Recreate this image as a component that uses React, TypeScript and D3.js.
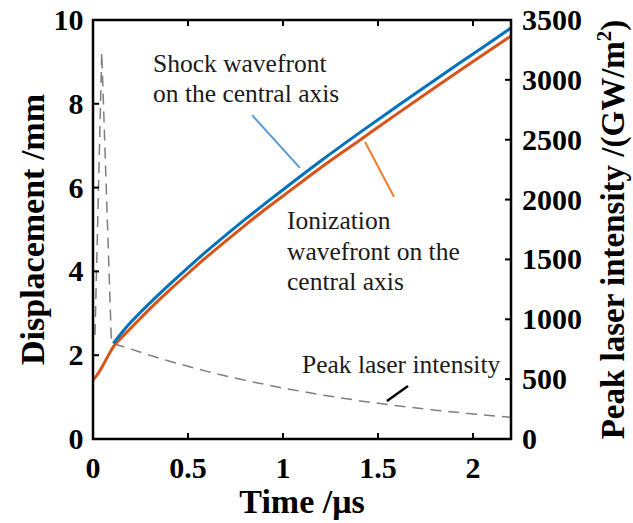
import React from 'react';
import * as d3 from 'd3';

// Shock wavefront on the central axis (time in µs, displacement in mm)
const shockTime = [0.107, 0.15, 0.2, 0.3, 0.4, 0.5, 0.6, 0.7, 0.8, 0.9, 1.0, 1.2, 1.4, 1.6, 1.8, 2.0, 2.2];
const shockDisp = [2.28, 2.53, 2.79, 3.25, 3.68, 4.09, 4.49, 4.87, 5.24, 5.6, 5.95, 6.64, 7.3, 7.94, 8.57, 9.19, 9.81];

// Ionization wavefront on the central axis
const ionTime = [0, 0.02, 0.05, 0.08, 0.107, 0.15, 0.2, 0.3, 0.4, 0.5, 0.6, 0.7, 0.8, 0.9, 1.0, 1.2, 1.4, 1.6, 1.8, 2.0, 2.2];
const ionDisp = [1.41, 1.52, 1.74, 1.99, 2.2, 2.42, 2.65, 3.11, 3.54, 3.95, 4.35, 4.73, 5.1, 5.46, 5.8, 6.48, 7.12, 7.76, 8.39, 9.01, 9.62];

// Peak laser intensity (GW/m^2)
const laserTime = [0.0105, 0.046, 0.097, 0.2, 0.3, 0.4, 0.5, 0.6, 0.7, 0.8, 1.0, 1.2, 1.4, 1.6, 1.8, 2.0, 2.2];
const laserIntensity = [869, 3230, 802, 751, 699, 651, 607, 565, 526, 490, 425, 369, 320, 277, 241, 209, 181];

const xTicks = [0, 0.5, 1, 1.5, 2];
const xTickLabels = ['0', '0.5', '1', '1.5', '2'];
const yLeftTicks = [0, 2, 4, 6, 8, 10];
const yRightTicks = [0, 500, 1000, 1500, 2000, 2500, 3000, 3500];

const FONT = '"Liberation Serif", "Times New Roman", serif';

export default function App() {
  const W = 633;
  const H = 523;
  const L = 93, R = 511, T = 20, B = 439;
  const x = d3.scaleLinear().domain([0, 2.2]).range([L, R]);
  const yL = d3.scaleLinear().domain([0, 10]).range([B, T]);
  const yR = d3.scaleLinear().domain([0, 3500]).range([B, T]);

  const lineL = d3.line<[number, number]>().x(d => x(d[0])).y(d => yL(d[1])).curve(d3.curveMonotoneX);
  const lineR = d3.line<[number, number]>().x(d => x(d[0])).y(d => yR(d[1])).curve(d3.curveLinear);

  const shockPts = shockTime.map((t, i) => [t, shockDisp[i]] as [number, number]);
  const ionPts = ionTime.map((t, i) => [t, ionDisp[i]] as [number, number]);
  const laserPts = laserTime.map((t, i) => [t, laserIntensity[i]] as [number, number]);

  const tickLen = 6;
  const annFont = 25.5;

  return (
    <svg width={W} height={H} style={{ position: 'absolute', left: 0, top: 0, background: '#fff' }} fontFamily={FONT}>
      <defs>
        <clipPath id="plotClip">
          <rect x={L} y={T} width={R - L} height={B - T} />
        </clipPath>
      </defs>
      <rect x={0} y={0} width={W} height={H} fill="#fff" />

      {/* data */}
      <g clipPath="url(#plotClip)">
        <path d={lineR(laserPts) || ''} fill="none" stroke="#7f7f7f" strokeWidth={1.5} strokeDasharray="11,7" />
        <path d={lineL(ionPts) || ''} fill="none" stroke="#D95319" strokeWidth={3} strokeLinejoin="round" />
        <path d={lineL(shockPts) || ''} fill="none" stroke="#0072BD" strokeWidth={3} strokeLinejoin="round" />
      </g>

      {/* leader lines */}
      <line x1={x(0.837)} y1={yL(7.73)} x2={x(1.089)} y2={yL(6.47)} stroke="#5B9BD5" strokeWidth={2} />
      <line x1={x(1.432)} y1={yL(7.09)} x2={x(1.584)} y2={yL(5.78)} stroke="#ED7D31" strokeWidth={2} />
      <line x1={x(1.547)} y1={yR(317)} x2={x(1.658)} y2={yR(443)} stroke="#000" strokeWidth={2.5} />

      {/* annotations */}
      <g fontSize={annFont} fill="#1a1a1a">
        <text x={153} y={72}>Shock wavefront</text>
        <text x={153} y={102}>on the central axis</text>
        <text x={287} y={229}>Ionization</text>
        <text x={287} y={260}>wavefront on the</text>
        <text x={287} y={290}>central axis</text>
        <text x={302} y={373}>Peak laser intensity</text>
      </g>

      {/* axes box */}
      <rect x={L} y={T} width={R - L} height={B - T} fill="none" stroke="#000" strokeWidth={2.5} />

      {/* x ticks bottom & top */}
      {xTicks.map((t, i) => (
        <g key={'xt' + i}>
          {i > 0 && <line x1={x(t)} x2={x(t)} y1={B} y2={B - tickLen} stroke="#000" strokeWidth={2} />}
          {i > 0 && <line x1={x(t)} x2={x(t)} y1={T} y2={T + tickLen} stroke="#000" strokeWidth={2} />}
          <text x={x(t)} y={478} textAnchor="middle" fontSize={30} fontWeight="bold">{xTickLabels[i]}</text>
        </g>
      ))}

      {/* left y ticks */}
      {yLeftTicks.map((v, i) => (
        <g key={'yl' + i}>
          {i > 0 && i < yLeftTicks.length - 1 && (
            <line x1={L} x2={L + tickLen} y1={yL(v)} y2={yL(v)} stroke="#000" strokeWidth={2} />
          )}
          <text x={83.5} y={yL(v) + 10} textAnchor="end" fontSize={30} fontWeight="bold">{v}</text>
        </g>
      ))}

      {/* right y ticks */}
      {yRightTicks.map((v, i) => (
        <g key={'yr' + i}>
          {i > 0 && i < yRightTicks.length - 1 && (
            <line x1={R} x2={R - tickLen} y1={yR(v)} y2={yR(v)} stroke="#000" strokeWidth={2} />
          )}
          <text x={522} y={yR(v) + 10} textAnchor="start" fontSize={30} fontWeight="bold">{v}</text>
        </g>
      ))}

      {/* axis titles */}
      <text x={(L + R) / 2} y={513} textAnchor="middle" fontSize={34} fontWeight="bold">Time /μs</text>
      <text transform={`translate(44,${(T + B) / 2}) rotate(-90)`} textAnchor="middle" fontSize={34} fontWeight="bold">Displacement /mm</text>
      <text transform={`translate(624,${(T + B) / 2}) rotate(-90)`} textAnchor="middle" fontSize={33} fontWeight="bold">
        Peak laser intensity /(GW/m<tspan fontSize={21} dy={-13}>2</tspan><tspan dy={13}>)</tspan>
      </text>
    </svg>
  );
}
